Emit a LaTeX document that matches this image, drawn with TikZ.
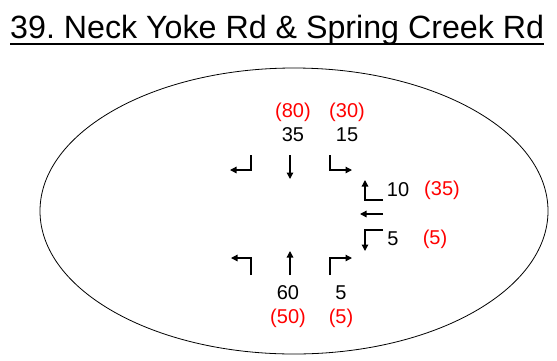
\documentclass[tikz,border=0pt]{standalone}
\usepackage{fontspec}
\setmainfont{Liberation Sans}
\usetikzlibrary{arrows.meta}
\frenchspacing
\tikzset{
  mv/.style={line width=1.3pt, -{Triangle[length=6.5pt,width=6.5pt]}},
  vol/.style={font=\fontsize{20}{20}\selectfont, inner sep=0pt},
  pk/.style={vol, text=red}
}
\begin{document}
\begin{tikzpicture}[x=1pt, y=-1pt]
  \useasboundingbox (0,0) rectangle (557,360);
  % title
  \node[anchor=base west, inner sep=0pt, font=\fontsize{32.2}{32.2}\selectfont] (title) at (10,38) {39. Neck Yoke Rd \& Spring Creek Rd};
  \draw[line width=1.2pt] ([yshift=-6pt]title.base west) -- ([yshift=-6pt]title.base east);
  % intersection
  \draw[line width=0.8pt] (294,211) ellipse [x radius=254, y radius=143];
  % southbound
  \draw[mv] (251,155) -- (251,170) -- (230,170);
  \draw[mv] (290,155) -- (290,179);
  \draw[mv] (330,155) -- (330,170) -- (352,170);
  \node[vol] (sbT) at (293,135) {35};
  \node[pk] (sbTp) at (293,112) {(80)};
  \node[vol] (sbR) at (347,135) {15};
  \node[pk] (sbRp) at (347,112) {(30)};
  % westbound
  \draw[mv] (383,200) -- (365,200) -- (365,180);
  \draw[mv] (383,214) -- (360,214);
  \draw[mv] (383,230) -- (365,230) -- (365,251);
  \node[vol] (wbL) at (398,190) {10};
  \node[pk] (wbLp) at (442,190) {(35)};
  \node[vol] (wbR) at (393,239) {5};
  \node[pk] (wbRp) at (435,239) {(5)};
  % northbound
  \draw[mv] (251,275) -- (251,258) -- (231,258);
  \draw[mv] (290,275) -- (290,251);
  \draw[mv] (330,275) -- (330,258) -- (352,258);
  \node[vol] (nbT) at (288,293) {60};
  \node[pk] (nbTp) at (288,318) {(50)};
  \node[vol] (nbR) at (341,293) {5};
  \node[pk] (nbRp) at (341,318) {(5)};
\end{tikzpicture}
\end{document}
